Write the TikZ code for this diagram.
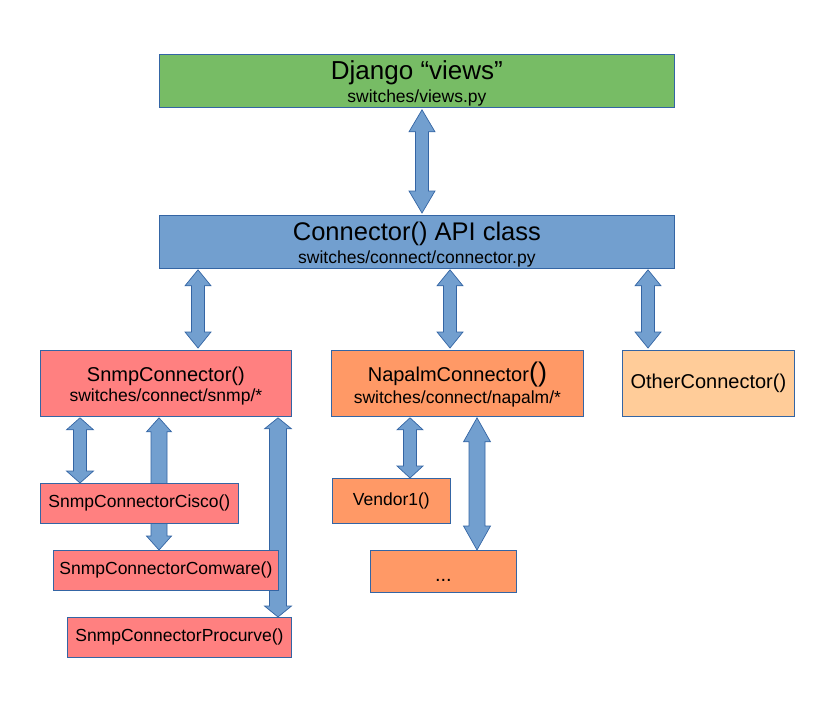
\documentclass[tikz,border=0pt]{standalone}
\usepackage{fontspec}
\setmainfont{Liberation Sans}
\usetikzlibrary{calc}
\definecolor{bcol}{HTML}{3465A4}
\definecolor{acol}{HTML}{729FCF}
\definecolor{gcol}{HTML}{77BC65}
\definecolor{pcol}{HTML}{FF8080}
\definecolor{ocol}{HTML}{FF9966}
\definecolor{lcol}{HTML}{FFCC99}
\pgfdeclarelayer{bg}
\pgfsetlayers{bg,main}
\tikzset{
  box/.style={draw=bcol, line width=0.8pt, anchor=north west, inner sep=0pt, align=center, text=black},
  dbl/.style n args={3}{draw=bcol, fill=acol, line width=0.7pt,
    to path={let \p1=(\tikztostart), \p2=(\tikztotarget) in
      (\x1,\y1) -- (\x1+#2,\y1-#1) -- (\x1+#3,\y1-#1) -- (\x1+#3,\y2+#1) -- (\x1+#2,\y2+#1)
      -- (\x1,\y2) -- (\x1-#2,\y2+#1) -- (\x1-#3,\y2+#1) -- (\x1-#3,\y1-#1) -- (\x1-#2,\y1-#1) -- cycle}},
}
\newcommand{\fsz}[2]{\fontsize{#1}{#2}\selectfont}
\begin{document}
\begin{tikzpicture}[x=1pt,y=-1pt]
\useasboundingbox (0,0) rectangle (816,720);
\node[box, fill=gcol, minimum width=515pt, minimum height=53pt, font=\fsz{17.5}{23}] (views) at (159,54)
  {{\fsz{26}{23}\rule{0pt}{24pt}Django “views”}\\switches/views.py};
\node[box, fill=acol, minimum width=515pt, minimum height=53pt, font=\fsz{17.5}{22.5}] (conn) at (159,215)
  {{\fsz{25.5}{22.5}\rule{0pt}{24pt}Connector() API class}\\switches/connect/connector.py};
\node[box, fill=pcol, minimum width=251pt, minimum height=66pt, font=\fsz{17.5}{20}] (snmp) at (40,350)
  {{\fsz{20}{20}\rule{0pt}{19pt}SnmpConnector()}\\switches/connect/snmp/*};
\node[box, fill=ocol, minimum width=252pt, minimum height=66pt, font=\fsz{17.5}{21.3}] (napalm) at (331,350)
  {{\fsz{20}{21.3}\rule{0pt}{22pt}NapalmConnector{\fsz{27}{21.3}()}}\\switches/connect/napalm/*};
\node[box, fill=lcol, minimum width=172pt, minimum height=66pt, font=\fsz{20}{24}] (other) at (622,350)
  {OtherConnector()};
\node[box, fill=pcol, minimum width=198pt, minimum height=40pt, font=\fsz{17.5}{21}] (cisco) at (40,483)
  {SnmpConnectorCisco()};
\node[box, fill=pcol, minimum width=225pt, minimum height=40pt, font=\fsz{17.5}{21}] (comware) at (53,550)
  {SnmpConnectorComware()};
\node[box, fill=pcol, minimum width=224pt, minimum height=40pt, font=\fsz{17.5}{21}] (procurve) at (67,617)
  {SnmpConnectorProcurve()};
\node[box, fill=ocol, minimum width=118pt, minimum height=45pt, font=\fsz{17.5}{21}] (vendor) at (332,478)
  {Vendor1()};
\node[box, fill=ocol, minimum width=146pt, minimum height=42pt, font=\fsz{20}{21}] (dots) at (370,550)
  {\raisebox{-10pt}[0pt][0pt]{...}};
\begin{pgfonlayer}{bg}
\draw[dbl={22pt}{13pt}{6.5pt}] ([xshift=263pt,yshift=-2pt]views.south west) to ([yshift=2pt]conn.north);
\draw[dbl={16pt}{13pt}{6.5pt}] ([xshift=39pt,yshift=-1pt]conn.south west) to ([yshift=2pt]snmp.north);
\draw[dbl={16pt}{13pt}{6.5pt}] ([xshift=291pt,yshift=-1pt]conn.south west) to ([yshift=2pt]napalm.north);
\draw[dbl={16pt}{13pt}{6.5pt}] ([xshift=489pt,yshift=-1pt]conn.south west) to ([yshift=2pt]other.north);
\draw[dbl={12pt}{13.5pt}{6.5pt}] ([xshift=40pt,yshift=-1pt]snmp.south west) to (cisco.north);
\draw[dbl={14pt}{12.5pt}{8pt}] ([xshift=119pt,yshift=-1pt]snmp.south west) to (comware.north);
\draw[dbl={11pt}{13.5pt}{8.5pt}] ([xshift=238pt,yshift=-1pt]snmp.south west) to (procurve.north);
\draw[dbl={12pt}{13pt}{6.5pt}] ([xshift=79pt,yshift=-1pt]napalm.south west) to (vendor.north);
\draw[dbl={24pt}{13.5pt}{8pt}] ([xshift=146pt,yshift=-1pt]napalm.south west) to (dots.north);
\end{pgfonlayer}
\end{tikzpicture}
\end{document}
